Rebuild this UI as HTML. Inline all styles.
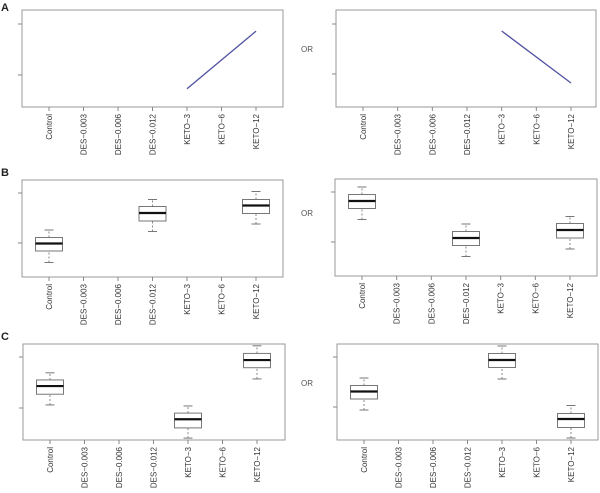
<!DOCTYPE html>
<html><head><meta charset="utf-8"><style>
body{margin:0;background:#fff;}
svg{display:block;font-family:"Liberation Sans",sans-serif;}
</style></head><body>
<svg id="fig" width="600" height="493" viewBox="0 0 600 493">
<text x="1" y="11" font-size="11" font-weight="bold" fill="#222">A</text>
<text x="1" y="176" font-size="11" font-weight="bold" fill="#222">B</text>
<text x="1" y="340" font-size="11" font-weight="bold" fill="#222">C</text>
<text x="301" y="52" font-size="8" fill="#555">OR</text>
<text x="301" y="216" font-size="8" fill="#555">OR</text>
<text x="301" y="386" font-size="8" fill="#555">OR</text>
</svg>
<script>
const categories=["Control","DES\u22120.003","DES\u22120.006","DES\u22120.012","KETO\u22123","KETO\u22126","KETO\u221212"];
const yTicks=[1,2];
// line panels: [categoryIndex, value]
const lineA1=[[4,0.73],[6,1.86]];
const lineA2=[[4,1.86],[6,0.82]];
// box stats: [categoryIndex, low, q1, median, q3, high]
const boxB1=[[0,0.61,0.84,0.99,1.11,1.26],[3,1.23,1.44,1.6,1.73,1.87],[6,1.38,1.59,1.75,1.87,2.03]];
const boxB2=[[0,1.45,1.67,1.82,1.95,2.1],[3,0.71,0.93,1.08,1.21,1.36],[6,0.86,1.08,1.24,1.37,1.51]];
const boxC1=[[0,1.06,1.27,1.43,1.55,1.69],[4,0.41,0.61,0.78,0.9,1.04],[6,1.57,1.79,1.94,2.07,2.22]];
const boxC2=[[0,0.94,1.16,1.31,1.43,1.58],[4,1.56,1.79,1.94,2.07,2.22],[6,0.38,0.59,0.76,0.87,1.03]];

const NS="http://www.w3.org/2000/svg";
const svg=document.getElementById('fig');
function mk(tag,attrs,parent){const e=document.createElementNS(NS,tag);for(const k in attrs)e.setAttribute(k,attrs[k]);(parent||svg).appendChild(e);return e;}

function panel(name,x0,x1,y0,y1,cx0,cx6,yTop,yBot,lines,boxes){
  const g=mk('g',{});
  
  
  const xs=i=>cx0+(cx6-cx0)*i/6;
  const ys=v=>yBot+(yTop-yBot)*(v-1);
  const fr=mk('rect',{x:x0,y:y0,width:x1-x0,height:y1-y0,fill:'none',stroke:'#999','stroke-width':1},g);
  
  
  yTicks.forEach(t=>{
    const tk=mk('line',{x1:x0-4,x2:x0,y1:ys(t),y2:ys(t),stroke:'#888'},g);
    
    
  });
  categories.forEach((c,i)=>{
    const x=xs(i);
    const tk=mk('line',{x1:x,x2:x,y1:y1,y2:y1+4,stroke:'#888'},g);
    
    
    const t=mk('text',{x:0,y:0,'font-size':8,fill:'#333','text-anchor':'end',transform:`translate(${x+3},${y1+7}) rotate(-90)`},g);
    t.textContent=c;
    
    
  });
  if(lines){
    const pts=lines.map(p=>xs(p[0])+','+ys(p[1])).join(' ');
    const pl=mk('polyline',{points:pts,fill:'none',stroke:'#5555a5','stroke-width':1.4},g);
    
    
  }
  if(boxes){
    boxes.forEach(b=>{
      const x=xs(b[0]);const w=27,cw=9;
      const bg=mk('g',{},g);
      
      
      mk('line',{x1:x,x2:x,y1:ys(b[1]),y2:ys(b[2]),stroke:'#888','stroke-dasharray':'2,2'},bg);
      mk('line',{x1:x,x2:x,y1:ys(b[4]),y2:ys(b[5]),stroke:'#888','stroke-dasharray':'2,2'},bg);
      mk('line',{x1:x-cw/2,x2:x+cw/2,y1:ys(b[1]),y2:ys(b[1]),stroke:'#777'},bg);
      mk('line',{x1:x-cw/2,x2:x+cw/2,y1:ys(b[5]),y2:ys(b[5]),stroke:'#777'},bg);
      mk('rect',{x:x-w/2,y:ys(b[4]),width:w,height:ys(b[2])-ys(b[4]),fill:'#fff',stroke:'#777'},bg);
      mk('line',{x1:x-w/2,x2:x+w/2,y1:ys(b[3]),y2:ys(b[3]),stroke:'#111','stroke-width':2.2},bg);
    });
  }
}
panel('panel-a-left',22,283,10,107,49,256,24,75,lineA1,null);
panel('panel-a-right',336,596,10,107,363,571,24,74,lineA2,null);
panel('panel-b-left',22,283,180,277,49,256,193,243,null,boxB1);
panel('panel-b-right',335,597,179,276,362,570,192,242,null,boxB2);
panel('panel-c-left',23,285,344,440,50,257,357,408,null,boxC1);
panel('panel-c-right',337,598,344,440,364,571,357,407,null,boxC2);
</script>
</body></html>
